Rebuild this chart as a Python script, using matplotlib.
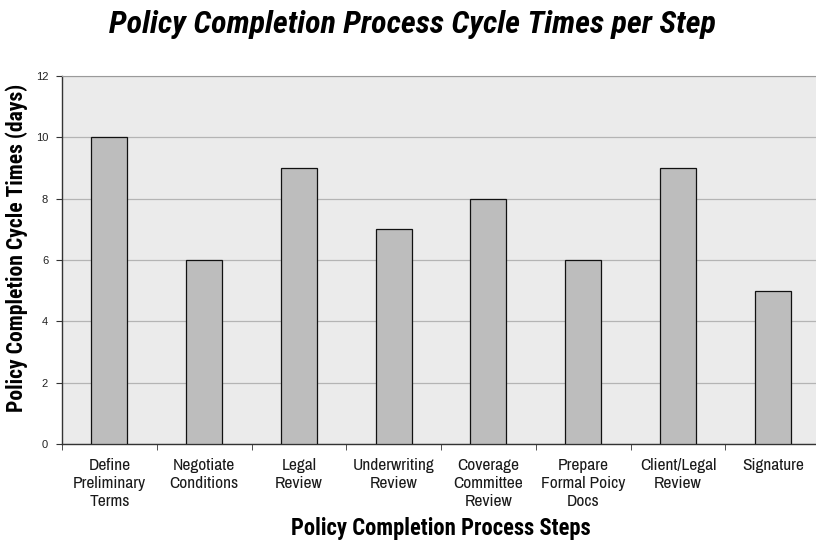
import matplotlib
matplotlib.use("Agg")
import matplotlib.pyplot as plt
import numpy as np

steps = [
    "Define\nPreliminary\nTerms",
    "Negotiate\nConditions",
    "Legal\nReview",
    "Underwriting\nReview",
    "Coverage\nCommittee\nReview",
    "Prepare\nFormal Poicy\nDocs",
    "Client/Legal\nReview",
    "Signature",
]
cycle_days = [10, 6, 9, 7, 8, 6, 9, 5]
y_ticks = [0, 2, 4, 6, 8, 10, 12]

narrow = ["Roboto Condensed", "DejaVu Sans"]
tick_font = ["Archivo Narrow", "Roboto Condensed", "DejaVu Sans"]

fig = plt.figure(figsize=(8.16, 5.44), dpi=100)
ax = fig.add_axes([0.076, 0.184, 0.929, 0.676])
ax.set_facecolor("#ebebeb")

x = np.arange(len(steps))
ax.bar(x, cycle_days, width=0.38, color="#bdbdbd", edgecolor="#111111", linewidth=0.9, zorder=3)

ax.set_xlim(-0.5, len(steps) - 0.5)
ax.set_ylim(0, 12)
ax.set_yticks(y_ticks)
ax.set_yticklabels([str(v) for v in y_ticks], fontsize=8, family="Liberation Sans", color="#222222")
ax.yaxis.grid(True, color="#b4b4b4", linewidth=0.9, zorder=1)

ax.set_xticks(x)
ax.set_xticklabels(steps, fontsize=12.5, family=tick_font, color="#1a1a1a", linespacing=1.25)
ax.tick_params(axis="x", length=0, pad=10)
ax.set_xticks(np.arange(-0.5, len(steps), 1.0), minor=True)
ax.tick_params(axis="x", which="minor", length=4, color="#333333")
ax.tick_params(axis="y", length=4, color="#333333", pad=6)

for side in ("left", "bottom"):
    ax.spines[side].set_color("#333333")
    ax.spines[side].set_linewidth(1.0)
for side in ("top", "right"):
    ax.spines[side].set_color("#9a9a9a")
    ax.spines[side].set_linewidth(0.8)

fig.text(0.505, 0.955, "Policy Completion Process Cycle Times per Step",
         ha="center", va="center", fontsize=23, fontweight="bold", fontstyle="italic",
         family=narrow, color="#000000")
fig.text(0.54, 0.028, "Policy Completion Process Steps", ha="center", va="center",
         fontsize=16.3, fontweight="bold", family=narrow, color="#000000")
fig.text(0.021, 0.544, "Policy Completion Cycle Times (days)", ha="center", va="center",
         rotation=90, fontsize=15.6, fontweight="bold", family=narrow, color="#000000")

fig.savefig("out.png", dpi=100)
